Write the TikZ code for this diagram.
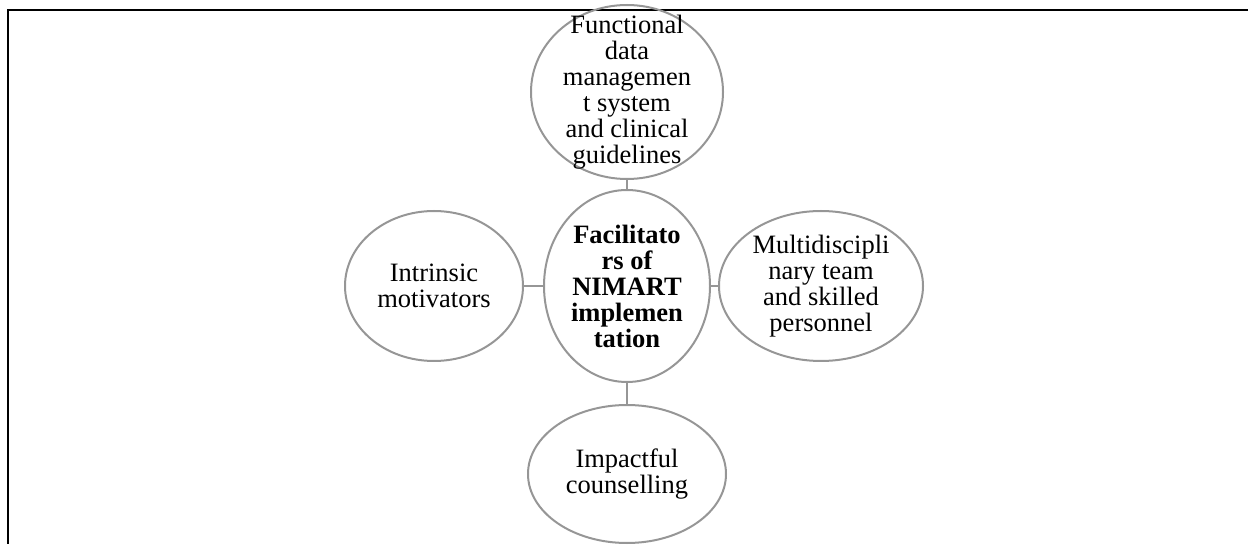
\documentclass[tikz,border=0pt]{standalone}
\usepackage{fontspec}
\setmainfont{Liberation Serif}
\usetikzlibrary{shapes.geometric}
\definecolor{rimgray}{RGB}{150,150,150}
\tikzset{
	bubble/.style={ellipse, draw=rimgray, line width=2pt, inner sep=-90pt, align=center, text=black,
		font=\fontsize{26.5}{26}\selectfont},
	link/.style={draw=rimgray, line width=2pt}
}
\begin{document}
\begin{tikzpicture}[x=1pt,y=1pt]
	\useasboundingbox (0,0) rectangle (1248,544);
	\draw[line width=2.5pt] (1248,534) -- (8,534) -- (8,0);

	\node[bubble, minimum width=166pt, minimum height=192pt, font=\fontsize{26.5}{26}\selectfont\bfseries] (hub) at (627,258)
		{Facilitato\\rs of\\NIMART\\implemen\\tation};
	\node[bubble, minimum width=192pt, minimum height=174pt] (data) at (627,452)
		{Functional\\data\\managemen\\t system\\and clinical\\guidelines};
	\node[bubble, minimum width=178pt, minimum height=150pt] (motiv) at (434,258)
		{Intrinsic\\motivators};
	\node[bubble, minimum width=204pt, minimum height=150pt] (team) at (821,258)
		{Multidiscipli\\nary team\\and skilled\\personnel};
	\node[bubble, minimum width=198pt, minimum height=138pt] (couns) at (627,70)
		{Impactful\\counselling};

	\draw[link] (hub) -- (data);
	\draw[link] (hub) -- (motiv);
	\draw[link] (hub) -- (team);
	\draw[link] (hub) -- (couns);
\end{tikzpicture}
\end{document}
